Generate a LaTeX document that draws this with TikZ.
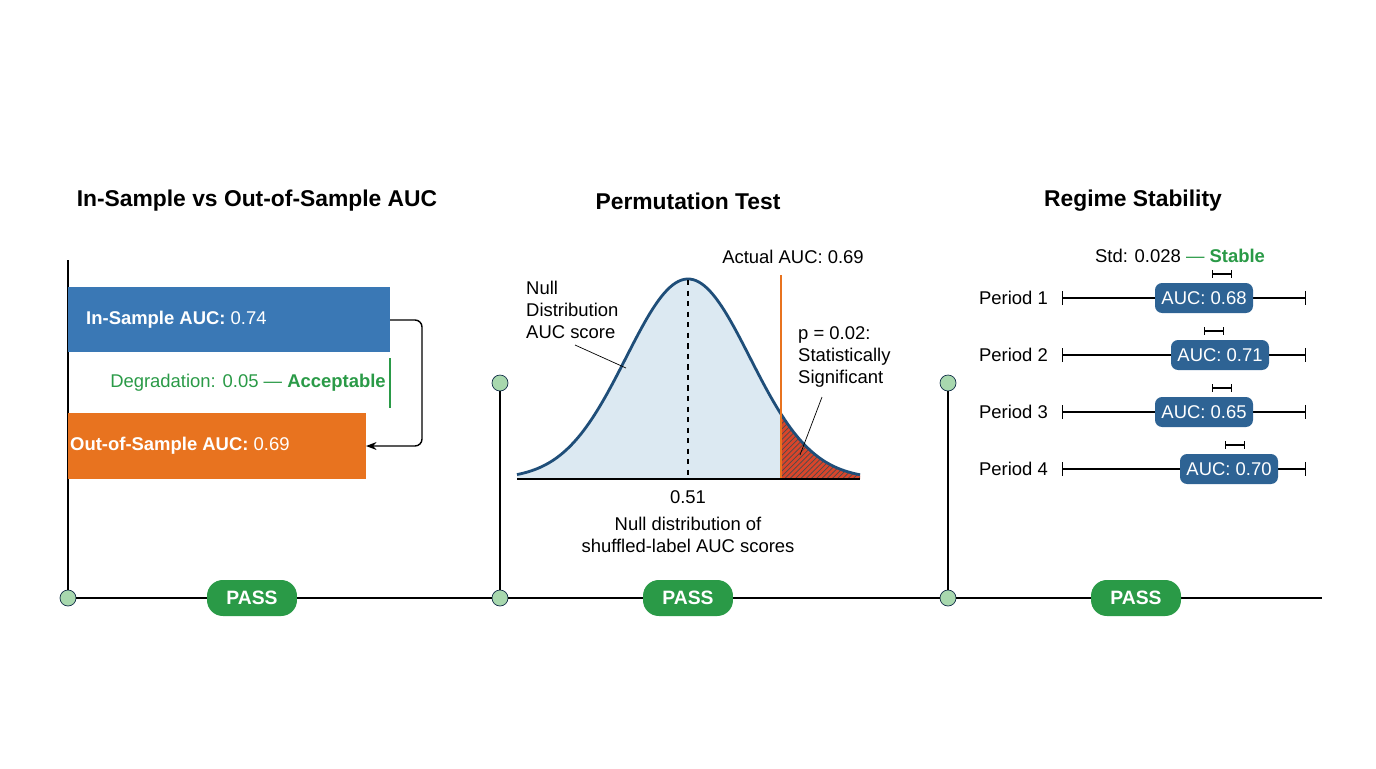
\documentclass[tikz,border=0pt]{standalone}
\usepackage{fontspec}
\setmainfont{Liberation Sans}
\usetikzlibrary{arrows.meta,patterns}
\definecolor{barblue}{HTML}{3A78B5}
\definecolor{barorange}{HTML}{E8731F}
\definecolor{passgreen}{HTML}{2A9A47}
\definecolor{dotgreen}{HTML}{A8D8AE}
\definecolor{curveblue}{HTML}{1F4E79}
\definecolor{nullfill}{HTML}{DCE9F2}
\definecolor{pillblue}{HTML}{2E6394}
\definecolor{tailred}{HTML}{D9452B}
\tikzset{
  title/.style={font=\fontsize{13}{15}\selectfont\bfseries},
  lbl/.style={font=\fontsize{10.5}{12.5}\selectfont},
  pass/.style={fill=passgreen, text=white, rounded corners=9pt, minimum width=1.8cm,
    minimum height=0.72cm, font=\fontsize{11}{13}\selectfont\bfseries},
  dot/.style={circle, draw=curveblue!60!black, fill=dotgreen, minimum size=0.32cm, inner sep=0pt},
  auc/.style={fill=pillblue, text=white, rounded corners=4pt, minimum width=1.96cm,
    minimum height=0.6cm, font=\fontsize{10.5}{12.5}\selectfont},
  errbar/.style={thick, {Bar[width=4pt]}-{Bar[width=4pt]}}
}
\begin{document}
\begin{tikzpicture}[x=0.02cm, y=-0.02cm]
  \useasboundingbox (0,0) rectangle (1376,768);
  % timeline
  \node[dot] (d1) at (68,598) {};
  \node[dot] (d2) at (500,598) {};
  \node[dot] (d3) at (948,598) {};
  \node[dot] (t2) at (500,383) {};
  \node[dot] (t3) at (948,383) {};
  \coordinate (t1) at (68,260);
  \coordinate (tend) at (1322,598);
  \draw[thick] (d1) -- (d2) -- (d3) -- (tend);
  \draw[thick] (t1) -- (d1);
  \draw[thick] (t2) -- (d2);
  \draw[thick] (t3) -- (d3);
  \node[pass] (p1) at (252,598) {PASS};
  \node[pass] (p2) at (688,598) {PASS};
  \node[pass] (p3) at (1136,598) {PASS};
  % titles
  \node[title] (h1) at (257,201) {In-Sample vs Out-of-Sample AUC};
  \node[title] (h2) at (688,201) {Permutation Test};
  \node[title] (h3) at (1133,201) {Regime Stability};

  % panel 1: bars
  \fill[barblue] (68,287) rectangle (390,352);
  \fill[barorange] (68,413) rectangle (366,479);
  \node[lbl, text=white, anchor=west] (insamp) at (80,320) {\textbf{In-Sample AUC:} 0.74};
  \node[lbl, text=white, anchor=west] (outsamp) at (64,446) {\textbf{Out-of-Sample AUC:} 0.69};
  \coordinate (bstart) at (390,320);
  \coordinate (bend) at (366,446);
  \draw[thick, -{Stealth[length=6pt]}, rounded corners=4pt] (bstart) -- (422,320) -- (422,446) -- (bend);
  \draw[passgreen, thick] (390,358) -- (390,408);
  \node[lbl, text=passgreen] (degr) at (248,383) {Degradation: 0.05 — \textbf{Acceptable}};

  % panel 2: null distribution
  \fill[nullfill] plot[domain=517:781, samples=80] (\x, {479-200*exp(-((\x-688)/62)^2/2)}) -- (781,479) -- (517,479) -- cycle;
  \fill[tailred] plot[domain=781:860, samples=30] (\x, {479-200*exp(-((\x-688)/62)^2/2)}) -- (860,479) -- (781,479) -- cycle;
  \fill[pattern=north east lines, pattern color=black!70] plot[domain=781:860, samples=30] (\x, {479-200*exp(-((\x-688)/62)^2/2)}) -- (860,479) -- (781,479) -- cycle;
  \draw[curveblue, line width=1.6pt] plot[domain=517:860, samples=120] (\x, {479-200*exp(-((\x-688)/62)^2/2)});
  \draw[thick, dashed] (688,280) -- (688,479);
  \draw[barorange, line width=1.6pt] (781,275) -- (781,479);
  \draw[line width=1.2pt] (517,479) -- (860,479);
  \node[lbl] (mean) at (688,497) {0.51};
  \node[lbl, align=center] (nulldist) at (688,535) {Null distribution of\\shuffled-label AUC scores};
  \node[lbl] (actual) at (793,257) {Actual AUC: 0.69};
  \node[lbl, align=left, anchor=west] (nullnote) at (520,310) {Null\\Distribution\\AUC score};
  \node[lbl, align=left, anchor=west] (pval) at (792,357) {p = 0.02:\\Statistically\\Significant};
  \coordinate (nulltip) at (626,368);
  \coordinate (tailtip) at (800,455);
  \draw (575,345) -- (nulltip);
  \draw (822,397) -- (tailtip);

  % panel 3: regimes
  \node[lbl] (std) at (1180,256) {Std: 0.028 \textcolor{passgreen}{— \textbf{Stable}}};
  \foreach \n/\y/\c/\e/\v in {1/298/1204/1222/0.68, 2/355/1220/1214/0.71, 3/412/1204/1222/0.65, 4/469/1229/1235/0.70} {
    \node[lbl, anchor=east] (per\n) at (1054,\y) {Period \n};
    \draw[thick, {Bar[width=8pt]}-{Bar[width=8pt]}] (1062,\y) -- (1306,\y);
    \node[auc] (auc\n) at (\c,\y) {AUC: \v};
    \draw[errbar] (\e-10,\y-24) -- (\e+10,\y-24);
  }
\end{tikzpicture}
\end{document}
